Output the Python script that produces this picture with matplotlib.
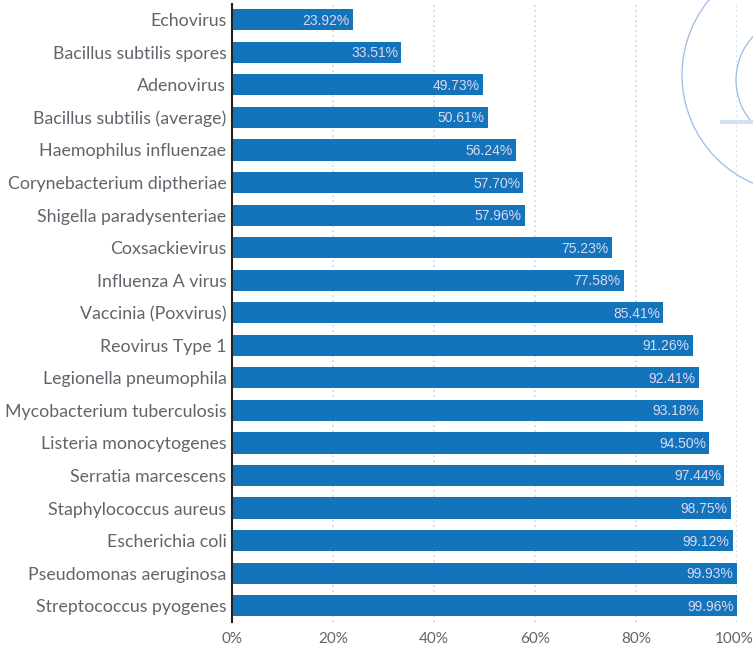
""" Pathogen reduction bar chart """

import matplotlib.pyplot as plt
import matplotlib.transforms as mtrans
from matplotlib.patches import Circle, Rectangle

names = ["Echovirus", "Bacillus subtilis spores", "Adenovirus",
         "Bacillus subtilis (average)", "Haemophilus influenzae",
         "Corynebacterium diptheriae", "Shigella paradysenteriae",
         "Coxsackievirus", "Influenza A virus", "Vaccinia (Poxvirus)",
         "Reovirus Type 1", "Legionella pneumophila",
         "Mycobacterium tuberculosis", "Listeria monocytogenes",
         "Serratia marcescens", "Staphylococcus aureus", "Escherichia coli",
         "Pseudomonas aeruginosa", "Streptococcus pyogenes"]
values = [23.92, 33.51, 49.73, 50.61, 56.24, 57.70, 57.96, 75.23, 77.58,
          85.41, 91.26, 92.41, 93.18, 94.50, 97.44, 98.75, 99.12, 99.93, 99.96]
ticks = [0, 20, 40, 60, 80, 100]

bar_col = '#1474bb'
txt_col = '#60656c'

fig = plt.figure(figsize=(7.53, 6.47), dpi=100)

# decorative circles in the top right corner
for cx, cy, r in [(800, 75, 118), (800, 80, 64)]:
    c = Circle((cx / 100, 6.47 - cy / 100), r / 100,
               transform=fig.dpi_scale_trans, fill=False,
               edgecolor='#9dbbe6', linewidth=0.9, zorder=0)
    fig.patches.append(c)
fig.patches.append(Rectangle((720 / 753, 1 - 124 / 647), 33 / 753, 4 / 647,
                             transform=fig.transFigure, color='#d3e1f3',
                             linewidth=0, zorder=0))

ax = fig.add_axes([232 / 753, 1 - 622 / 647, 505 / 753, 618.5 / 647])
ax.patch.set_alpha(0)

y = range(len(names))
ax.barh(y, values, height=0.65, color=bar_col, zorder=2)
for i, v in enumerate(values):
    ax.text(v - 0.6, i + 0.03, "{:.2f}%".format(v), ha='right', va='center',
            color='#dad8f0', fontsize=10, family='Liberation Sans', zorder=3)

ax.set_ylim(len(names) - 0.5, -0.5)
ax.set_xlim(0, 100)
ax.set_yticks(list(y))
ax.set_yticklabels(names, fontsize=12.8, family='Lato', color=txt_col)
ax.set_xticks(ticks)
ax.set_xticklabels(["{}%".format(t) for t in ticks], fontsize=11,
                   family='Lato', color=txt_col)
ax.tick_params(axis='both', length=0)
ax.tick_params(axis='y', pad=4)
ax.tick_params(axis='x', pad=7)

# keep the last tick label inside the image
last = ax.get_xticklabels()[-1]
last.set_transform(last.get_transform() +
                   mtrans.ScaledTranslation(-0.03, 0, fig.dpi_scale_trans))

ax.grid(axis='x', linestyle=(0, (1, 2)), color='#c5d7ea', linewidth=1.2,
        zorder=0)
ax.set_axisbelow(True)
for s in ["top", "right", "bottom"]:
    ax.spines[s].set_visible(False)
ax.spines["left"].set_color('#222222')
ax.spines["left"].set_linewidth(1.5)
ax.spines["left"].set_zorder(4)

plt.savefig("out.png", dpi=100)
